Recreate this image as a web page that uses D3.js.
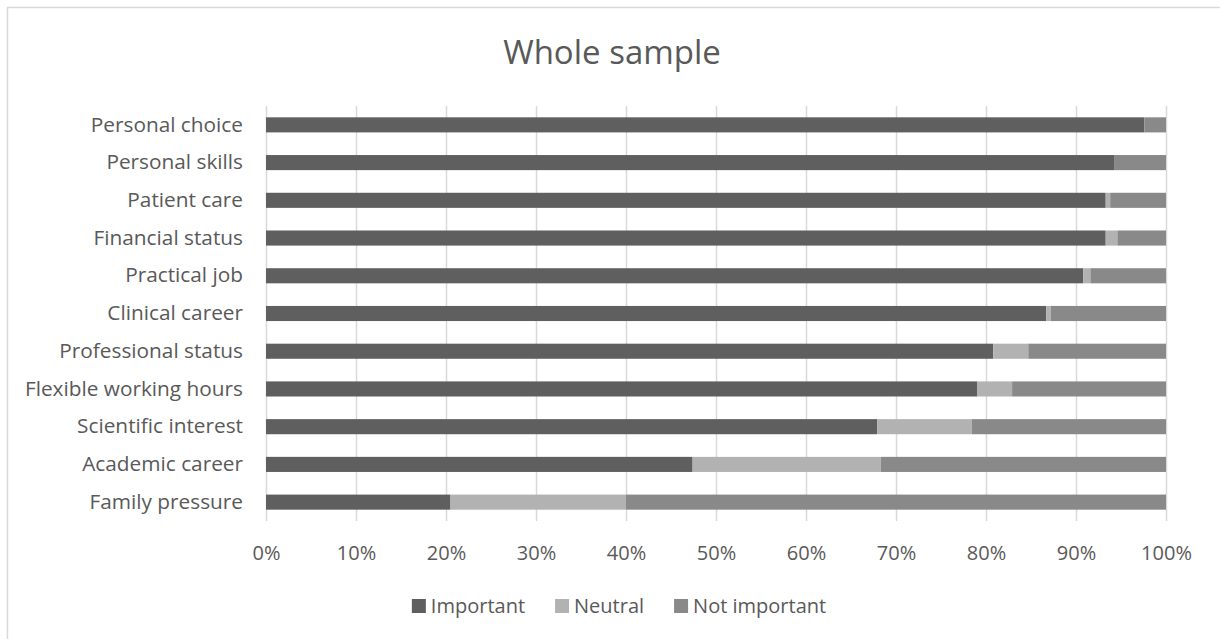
<!DOCTYPE html>
<html>
<head>
<meta charset="utf-8">
<script src="https://cdn.jsdelivr.net/npm/d3@7"></script>
<style>
  body { margin: 0; background: #fff; }
  text { font-family: "Open Sans", sans-serif; fill: #595959; }
</style>
</head>
<body>
<div id="chart"></div>
<script>
// categories, top to bottom
const categories = ["Personal choice", "Personal skills", "Patient care", "Financial status",
  "Practical job", "Clinical career", "Professional status", "Flexible working hours",
  "Scientific interest", "Academic career", "Family pressure"];

// shares in percent
const important    = [97.6, 94.3, 93.3, 93.3, 90.8, 86.7, 80.8, 79.0, 67.9, 47.4, 20.5];
const neutral      = [0.0, 0.0, 0.5, 1.3, 0.8, 0.5, 3.9, 3.9, 10.5, 20.9, 19.5];
const notImportant = [2.4, 5.7, 6.2, 5.4, 8.4, 12.8, 15.3, 17.1, 21.6, 31.7, 60.0];

const seriesNames = ["Important", "Neutral", "Not important"];
const tickValues = [0, 0.1, 0.2, 0.3, 0.4, 0.5, 0.6, 0.7, 0.8, 0.9, 1];

let width = 1220, height = 639;
let margin = { top: 106, bottom: 118, left: 266, right: 54 };

// table for d3.stack
const table = categories.map((c, i) => ({
  category: c,
  "Important": important[i] / 100,
  "Neutral": neutral[i] / 100,
  "Not important": notImportant[i] / 100
}));

let svg = d3.select('#chart')
  .append('svg')
  .attr('width', width)
  .attr('height', height);

// chart frame
svg.append('rect')
  .attr('x', 7.5).attr('y', 7.5)
  .attr('width', width + 20).attr('height', height + 20)
  .attr('fill', 'none')
  .attr('stroke', '#d9d9d9')
  .attr('stroke-width', 1.5);

const colorScale = d3.scaleOrdinal()
  .domain(seriesNames)
  .range(['#5f5f5f', '#b2b2b2', '#898989']);

let xScale = d3.scaleLinear()
  .domain([0, 1])
  .range([margin.left, width - margin.right]);

let yScale = d3.scaleBand()
  .domain(categories)
  .range([margin.top, height - margin.bottom])
  .paddingInner(0.6)
  .paddingOuter(0.3);

// x axis with gridlines
let xAxis = svg.append('g')
  .attr('transform', `translate(0, ${height - margin.bottom})`)
  .call(d3.axisBottom(xScale)
    .tickValues(tickValues)
    .tickFormat(d3.format('.0%'))
    .tickSize(-(height - margin.top - margin.bottom))
    .tickPadding(25));
xAxis.select('.domain').remove();
xAxis.selectAll('line').attr('stroke', '#d9d9d9').attr('stroke-width', 1.5);
xAxis.selectAll('text').style('font-size', '20px').attr('fill', '#595959');

// stacked bars
const stacked = d3.stack().keys(seriesNames)(table);

svg.append('g')
  .selectAll('g')
  .data(stacked)
  .enter()
  .append('g')
  .attr('fill', d => colorScale(d.key))
  .selectAll('rect')
  .data(d => d)
  .enter()
  .append('rect')
  .attr('x', d => xScale(d[0]))
  .attr('y', d => yScale(d.data.category))
  .attr('width', d => xScale(d[1]) - xScale(d[0]))
  .attr('height', yScale.bandwidth());

// y axis labels
let yAxis = svg.append('g')
  .attr('transform', `translate(${margin.left}, 0)`)
  .call(d3.axisLeft(yScale).tickSize(0).tickPadding(23));
yAxis.select('.domain').remove();
yAxis.selectAll('text').style('font-size', '20.8px').attr('fill', '#595959');

// title
svg.append('text')
  .attr('x', 612)
  .attr('y', 64)
  .attr('text-anchor', 'middle')
  .style('font-size', '33px')
  .text('Whole sample');

// legend
let legend = svg.append('g');
let lx = 0;
seriesNames.forEach(function(name) {
  let item = legend.append('g').attr('transform', `translate(${lx}, 0)`);
  item.append('rect')
    .attr('x', 0).attr('y', -14)
    .attr('width', 14).attr('height', 14)
    .attr('fill', colorScale(name));
  let t = item.append('text')
    .attr('x', 19).attr('y', 0)
    .style('font-size', '20px')
    .text(name);
  lx += 19 + t.node().getComputedTextLength() + 30;
});
let legendWidth = lx - 30;
legend.attr('transform', `translate(${619 - legendWidth / 2}, 613)`);
</script>
</body>
</html>
